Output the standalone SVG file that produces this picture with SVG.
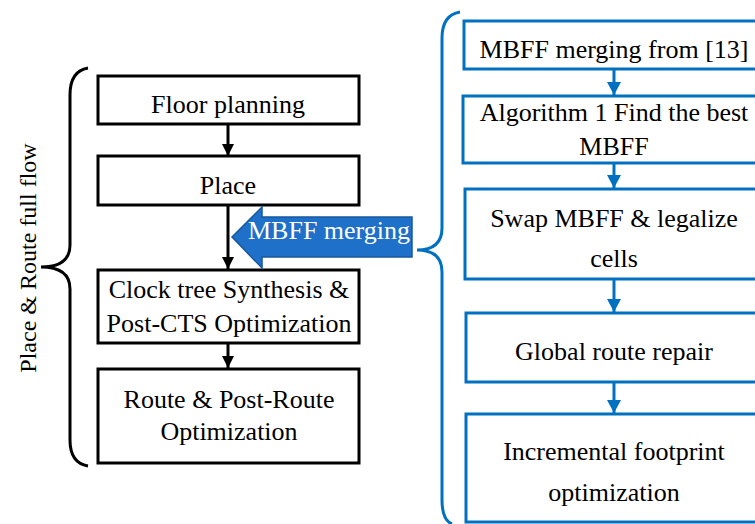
<svg xmlns="http://www.w3.org/2000/svg" width="755" height="524" viewBox="0 0 755 524">
<defs>
<style>
.t{font-family:"Liberation Serif","Times New Roman",serif;font-size:26px;fill:#000;text-anchor:middle}
.bk{fill:#fff;stroke:#000;stroke-width:3}
.bl{fill:#fff;stroke:#0070C0;stroke-width:3}
.ck{stroke:#000;stroke-width:3;fill:none}
.cb{stroke:#0070C0;stroke-width:3;fill:none}
</style>
<marker id="ak" markerWidth="12" markerHeight="12" refX="12" refY="6" orient="auto" markerUnits="userSpaceOnUse" viewBox="0 0 12 12"><path d="M0,0 L12,6 L0,12 z" fill="#000"/></marker>
<marker id="ab" markerWidth="13" markerHeight="14" refX="13" refY="7" orient="auto" markerUnits="userSpaceOnUse" viewBox="0 0 13 14"><path d="M0,0 L13,7 L0,14 z" fill="#0070C0"/></marker>
</defs>
<rect width="755" height="524" fill="#fff"/>
<g id="braces">
<path class="ck" d="M88,68 Q70,71 70,95 L70,245 Q70,267 41,267 Q70,267 70,289 L70,440 Q70,463 88,466"/>
<path class="cb" stroke-width="2.5" d="M460,12 Q442,15 442,38 L442,228 Q442,250 417,250 Q442,250 442,272 L442,500 Q442,520 452,524"/>
</g>
<text class="t" style="font-size:24px" transform="translate(36,258) rotate(-90)">Place &amp; Route full flow</text>
<g id="connectors">
<line class="ck" x1="228" y1="124" x2="228" y2="156" marker-end="url(#ak)"/>
<line class="ck" x1="228" y1="205" x2="228" y2="269" marker-end="url(#ak)"/>
<line class="ck" x1="228" y1="343" x2="228" y2="368" marker-end="url(#ak)"/>
<line class="cb" x1="614" y1="69" x2="614" y2="95" marker-end="url(#ab)"/>
<line class="cb" x1="614" y1="163" x2="614" y2="188" marker-end="url(#ab)"/>
<line class="cb" x1="614" y1="279" x2="614" y2="312" marker-end="url(#ab)"/>
<line class="cb" x1="614" y1="382" x2="614" y2="413" marker-end="url(#ab)"/>
</g>
<g id="n1"><rect class="bk" x="98" y="76" width="261" height="48"/><text class="t" x="228" y="113">Floor planning</text></g>
<g id="n2"><rect class="bk" x="98" y="156" width="261" height="49"/><text class="t" x="228" y="194">Place</text></g>
<g id="n3"><rect class="bk" x="98" y="270" width="261" height="73"/><text class="t" x="229" y="298">Clock tree Synthesis &amp;</text><text class="t" x="229" y="332">Post-CTS Optimization</text></g>
<g id="n4"><rect class="bk" x="98" y="369" width="261" height="94"/><text class="t" x="229" y="408">Route &amp; Post-Route</text><text class="t" x="229" y="440">Optimization</text></g>
<g id="mbff">
<path d="M232,237 L262,207 L262,217 L412,217 L412,257 L262,257 L262,268 Z" fill="#1E70C8" stroke="#17579C" stroke-width="1.5"/>
<text class="t" x="329" y="239" style="fill:#fff">MBFF merging</text>
</g>
<g id="r1"><rect class="bl" x="464" y="21" width="302" height="48"/><text class="t" x="614" y="58">MBFF merging from [13]</text></g>
<g id="r2"><rect class="bl" x="463" y="96" width="303" height="67"/><text class="t" x="614" y="121">Algorithm 1 Find the best</text><text class="t" x="614" y="155">MBFF</text></g>
<g id="r3"><rect class="bl" x="465" y="189" width="301" height="90"/><text class="t" x="614" y="227">Swap MBFF &amp; legalize</text><text class="t" x="614" y="267">cells</text></g>
<g id="r4"><rect class="bl" x="466" y="313" width="300" height="69"/><text class="t" x="614" y="360">Global route repair</text></g>
<g id="r5"><rect class="bl" x="466" y="414" width="300" height="108"/><text class="t" x="614" y="460">Incremental footprint</text><text class="t" x="614" y="501">optimization</text></g>
</svg>
